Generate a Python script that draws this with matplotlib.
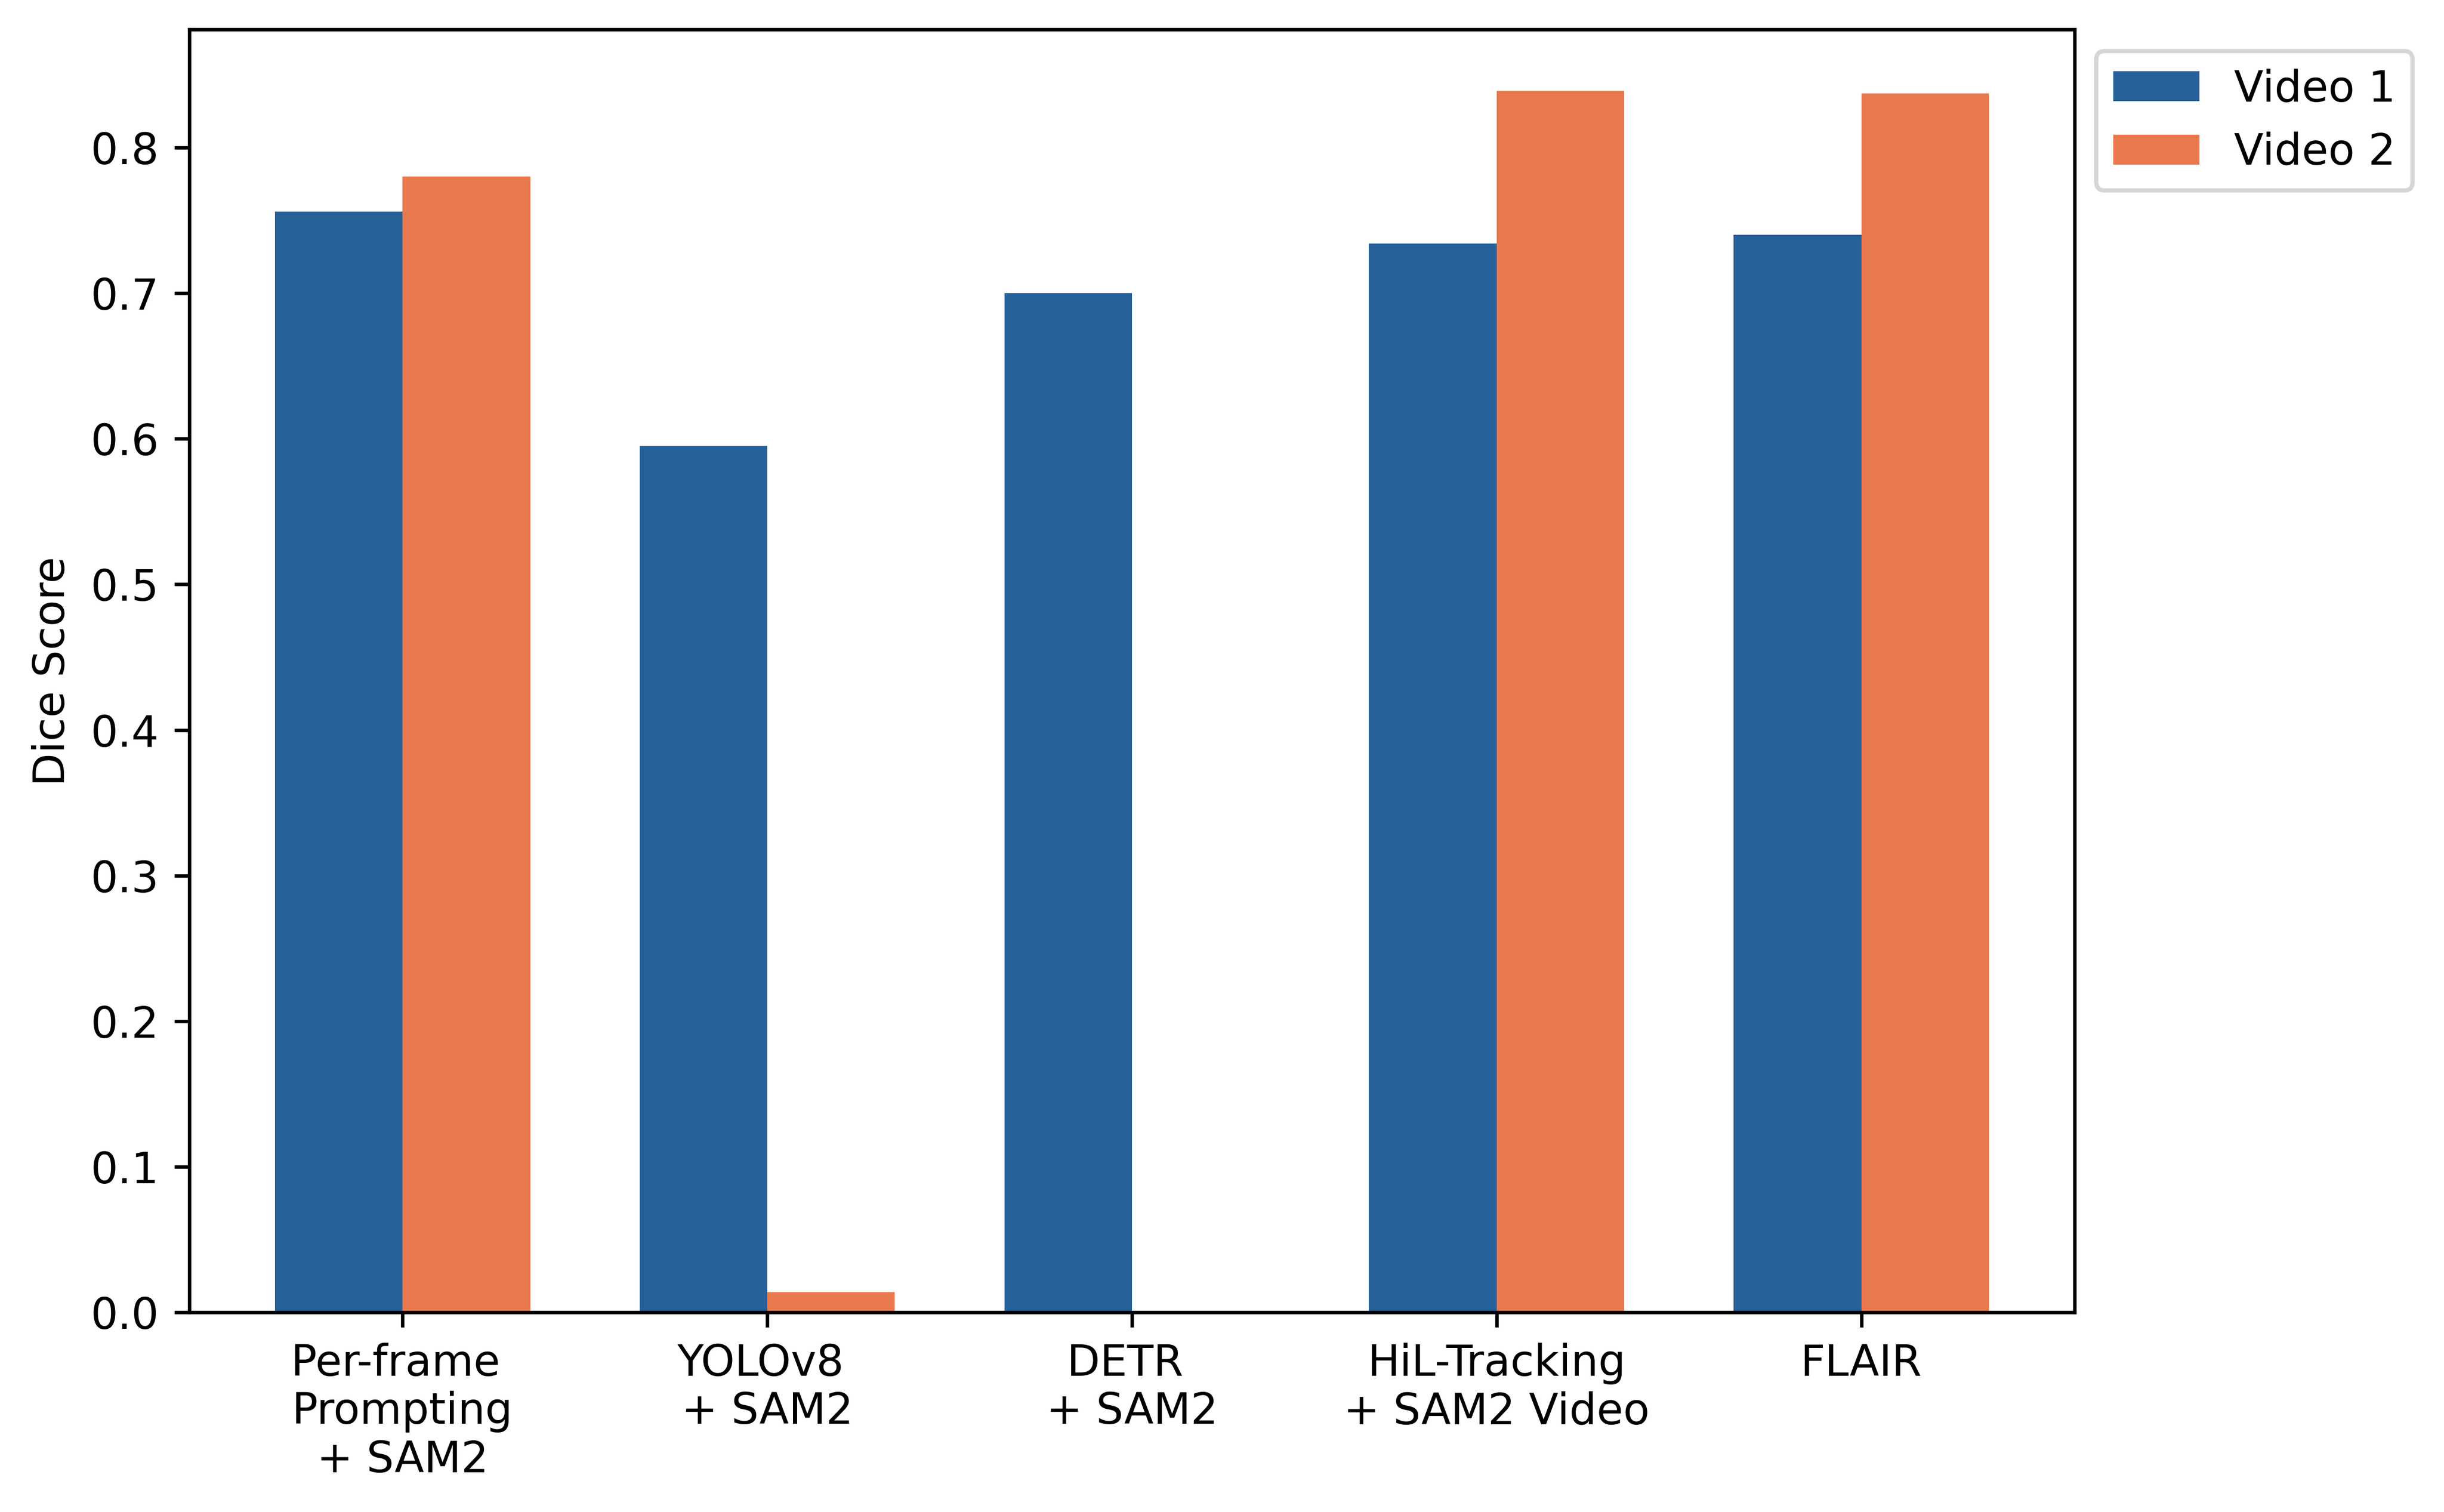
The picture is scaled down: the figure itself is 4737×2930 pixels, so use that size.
import numpy as np
import matplotlib as mpl
mpl.use('Agg')
import matplotlib.pyplot as plt

# Dice scores
methods = [
    "Per-frame \nPrompting\n+ SAM2",
    "YOLOv8 \n+ SAM2",
    "DETR \n+ SAM2",
    "HiL-Tracking\n+ SAM2 Video",
    "FLAIR",
]
video1 = [0.756, 0.595, 0.700, 0.734, 0.740]
video2 = [0.780, 0.014, 0.000, 0.839, 0.837]

c_video1 = "#26619A"
c_video2 = "#E8784E"

bar_w = 0.35
x = np.arange(len(methods))

fig = plt.figure(figsize=(4737 / 600, 2930 / 600))
ax = fig.add_axes([0.0774, 0.132, 0.7715, 0.8484])

ax.bar(x - bar_w / 2, video1, bar_w, color=c_video1, label="Video 1")
ax.bar(x + bar_w / 2, video2, bar_w, color=c_video2, label="Video 2")

ax.set_xticks(x)
ax.set_xticklabels(methods)
ax.set_ylabel("Dice Score")

ax.legend(loc="upper left", bbox_to_anchor=(1.0, 1.0))

fig.savefig("out.png", dpi=600)
